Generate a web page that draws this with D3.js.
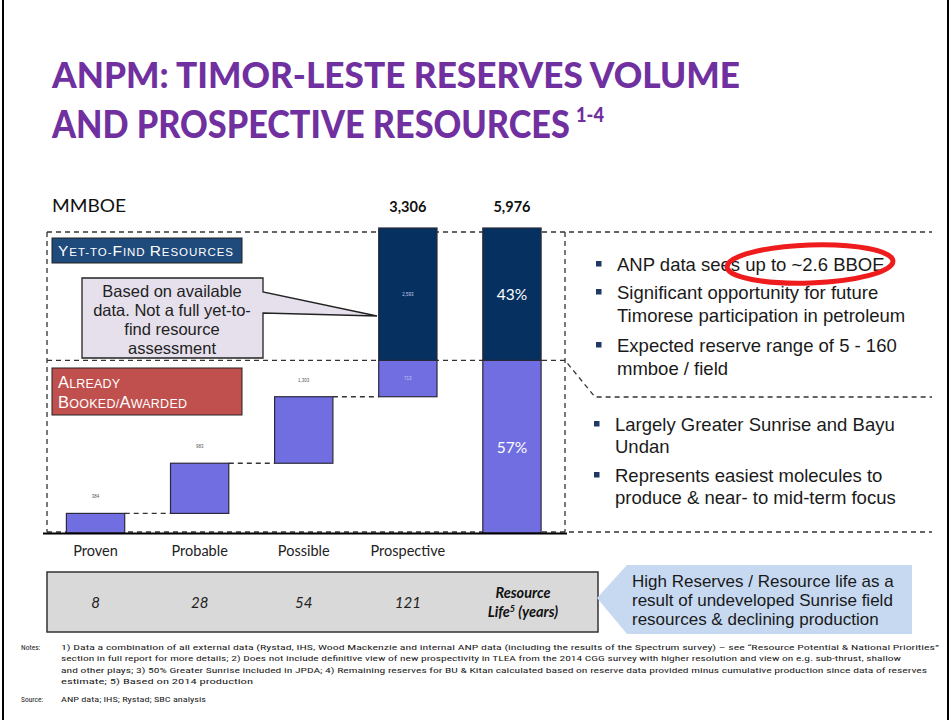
<!DOCTYPE html>
<html><head><meta charset="utf-8">
<script src="https://cdn.jsdelivr.net/npm/d3@7"></script>
<style>
html,body{margin:0;padding:0;background:#fff;}
svg{display:block;}
text{font-family:"Liberation Sans",Arial,sans-serif;}
.cal{font-family:Lato,"Open Sans",sans-serif;}
</style></head>
<body>
<svg id="chart" width="952" height="720"></svg>
<script>
// ---- data ----
const categories = ["Proven", "Probable", "Possible", "Prospective"];
const increments = [384, 983, 1303, 3306];          // MMBOE
const prospectiveSplit = [713, 2593];               // already booked part, yet-to-find part
const totalValue = 5976;
const totalShares = ["57%", "43%"];
const incrementLabels = ["384", "983", "1,303"];
const prospectiveLabels = ["713", "2,593"];
const topLabels = ["3,306", "5,976"];
const resourceLife = ["8", "28", "54", "121"];
const bulletsTop = [["ANP data sees up to ~2.6 BBOE"], ["Significant opportunity for future", "Timorese participation in petroleum"], ["Expected reserve range of 5 - 160", "mmboe / field"]];
const bulletsBottom = [["Largely Greater Sunrise and Bayu", "Undan"], ["Represents easiest molecules to", "produce & near- to mid-term focus"]];
const calloutLines = ["Based on available", "data. Not a full yet-to-", "find resource", "assessment"];
const arrowLines = ["High Reserves / Resource life as a", "result of undeveloped Sunrise field", "resources & declining production"];
const notesLines = [
 "1) Data a combination  of all external data (Rystad, IHS, Wood  Mackenzie and internal ANP data (including  the results of the Spectrum survey) \u2013 see \u201cResource  Potential & National  Priorities\u201d",
 "section in full report for more details; 2) Does not include  definitive view of new prospectivity in TLEA from the 2014 CGG survey with higher resolution and view on e.g. sub-thrust,  shallow",
 "and other plays; 3) 50% Greater Sunrise included  in JPDA; 4) Remaining  reserves for BU & Kitan calculated  based on reserve data provided  minus cumulative production  since data of reserves",
 "estimate; 5) Based on 2014 production"];
const sourceLine = "ANP data; IHS; Rystad; SBC analysis";

const LIGHT = "#716EE2", DARK = "#05305F", PURPLE = "#7030A0";
const svg = d3.select("#chart");

// slide border
svg.append("line").attr("x1",3).attr("x2",3).attr("y1",0).attr("y2",720).attr("stroke","#000").attr("stroke-width",2);
svg.append("line").attr("x1",948).attr("x2",948).attr("y1",0).attr("y2",720).attr("stroke","#000").attr("stroke-width",2);

// title (fitted by horizontal scaling so the box matches the ink)
function fitted(txt, x0, y0, size, width){
  const t = svg.append("text").attr("class","cal").attr("x",0).attr("y",0).attr("fill",PURPLE)
    .attr("font-size",size).attr("font-weight",900).text(txt);
  const w = t.node().getComputedTextLength();
  t.attr("transform",`translate(${x0},${y0}) scale(${width/w},1)`);
}
fitted("ANPM: TIMOR-LESTE RESERVES VOLUME", 52, 88, 37, 688);
fitted("AND PROSPECTIVE RESOURCES", 52, 138, 37, 518);
fitted("1-4", 576, 122, 20, 28);

// scales
const cols = categories.concat(["Total"]);
const x = d3.scaleBand().domain(cols).range([43.5, 564]).paddingInner(0.44).paddingOuter(0.22);
const y = d3.scaleLinear().domain([0, totalValue]).range([533, 228]);

svg.append("text").attr("class","cal").attr("x",52).attr("y",212).attr("font-size",16.5).attr("fill","#111")
  .attr("textLength",74).attr("lengthAdjust","spacingAndGlyphs").text("MMBOE");

// segments
const cum = d3.cumsum(increments);
const bookedTotal = cum[2] + prospectiveSplit[0];
const segs = [];
categories.slice(0,3).forEach((c,i)=>segs.push({c, y0: i?cum[i-1]:0, y1: cum[i], fill: LIGHT}));
segs.push({c:"Prospective", y0: cum[2], y1: bookedTotal, fill: LIGHT, lab: prospectiveLabels[0]});
segs.push({c:"Prospective", y0: bookedTotal, y1: cum[3], fill: DARK, lab: prospectiveLabels[1]});
segs.push({c:"Total", y0: 0, y1: bookedTotal, fill: LIGHT, pct: totalShares[0]});
segs.push({c:"Total", y0: bookedTotal, y1: totalValue, fill: DARK, pct: totalShares[1]});

// dashed frame
const dash = "5,4";
const frame = svg.append("g").attr("fill","none").attr("stroke","#333").attr("stroke-width",1.3).attr("stroke-dasharray",dash);
frame.append("line").attr("x1",47).attr("x2",47).attr("y1",y(totalValue)+4).attr("y2",y(0)-1);
frame.append("line").attr("x1",47).attr("x2",932).attr("y1",y(totalValue)+4).attr("y2",y(totalValue)+4);
frame.append("path").attr("d",`M47,${y(bookedTotal)} H565 L595,397 H932`);
frame.append("line").attr("x1",565).attr("x2",565).attr("y1",y(totalValue)+4).attr("y2",y(0)-1);
frame.append("line").attr("x1",47).attr("x2",932).attr("y1",y(0)-1).attr("y2",y(0)-1);
// connectors
categories.slice(0,3).forEach((c,i)=>{
  frame.append("line").attr("x1",x(c)+x.bandwidth()).attr("x2",x(categories[i+1]))
    .attr("y1",y(cum[i])).attr("y2",y(cum[i]));
});

// bars
svg.append("g").selectAll("rect").data(segs).join("rect")
  .attr("x",d=>x(d.c)).attr("width",x.bandwidth())
  .attr("y",d=>y(d.y1)).attr("height",d=>y(d.y0)-y(d.y1))
  .attr("fill",d=>d.fill).attr("stroke","#2a2a3a").attr("stroke-width",1.2);

// baseline
svg.append("line").attr("x1",43).attr("x2",567).attr("y1",533.5).attr("y2",533.5).attr("stroke","#000").attr("stroke-width",2.2);

// tiny value labels
categories.slice(0,3).forEach((c,i)=>{
  svg.append("text").attr("x",x(c)+x.bandwidth()/2).attr("y",y(cum[i])-15).attr("text-anchor","middle")
    .attr("font-size",4.5).attr("fill","#555").text(incrementLabels[i]);
});
segs.filter(d=>d.lab).forEach(d=>{
  svg.append("text").attr("x",x(d.c)+x.bandwidth()/2).attr("y",(y(d.y0)+y(d.y1))/2+1.5).attr("text-anchor","middle")
    .attr("font-size",4.5).attr("fill","#c8c8ee").text(d.lab);
});
segs.filter(d=>d.pct).forEach(d=>{
  svg.append("text").attr("class","cal").attr("x",x(d.c)+x.bandwidth()/2).attr("y",(y(d.y0)+y(d.y1))/2+6).attr("text-anchor","middle")
    .attr("font-size",15.5).attr("fill","#fff").text(d.pct);
});
[["Prospective",topLabels[0]],["Total",topLabels[1]]].forEach(([c,t])=>{
  svg.append("text").attr("class","cal").attr("x",x(c)+x.bandwidth()/2).attr("y",212).attr("text-anchor","middle")
    .attr("font-size",14.5).attr("font-weight",700).attr("fill","#111").text(t);
});

// small caps label boxes
function smallCaps(g, xx, yy, parts, big, small, len){
  const t = g.append("text").attr("x",xx).attr("y",yy).attr("fill","#fff")
    .attr("textLength",len).attr("lengthAdjust","spacing");
  parts.forEach(p=>{ t.append("tspan").attr("font-size",p[1]?big:small).text(p[0]); });
}
svg.append("rect").attr("x",52).attr("y",238).attr("width",190).attr("height",25).attr("fill","#1F4A7C").attr("stroke","#222").attr("stroke-width",1);
smallCaps(svg, 58, 256, [["Y",1],["ET-TO-",0],["F",1],["IND ",0],["R",1],["ESOURCES",0]], 15.5, 11.5, 175);
svg.append("rect").attr("x",52).attr("y",368).attr("width",190).attr("height",47).attr("fill","#C0504D").attr("stroke","#222").attr("stroke-width",1);
smallCaps(svg, 58, 388, [["A",1],["LREADY",0]], 16.5, 12.5, 62);
smallCaps(svg, 58, 408, [["B",1],["OOKED/",0],["A",1],["WARDED",0]], 16.5, 12.5, 129);

// callout
svg.append("path").attr("d","M82,278 H263 V292 L377,316 L263,313 V358 H82 Z")
  .attr("fill","#E5E0EC").attr("stroke","#222").attr("stroke-width",1.3);
calloutLines.forEach((l,i)=>svg.append("text").attr("x",172).attr("y",297+i*19).attr("text-anchor","middle")
  .attr("font-size",16.5).attr("fill","#222").text(l));

// right bullets
function bullets(list, x0, y0s, lh){
  list.forEach((b,i)=>{
    svg.append("rect").attr("x",x0).attr("y",y0s[i]-10).attr("width",5.5).attr("height",5.5).attr("fill","#1F3864");
    b.forEach((l,j)=>svg.append("text").attr("x",x0+21).attr("y",y0s[i]+j*lh).attr("font-size",18.5).attr("fill","#1a1a1a").text(l));
  });
}
bullets(bulletsTop, 596, [271, 299, 352], 23);
bullets(bulletsBottom, 594, [431, 482], 22);
// red highlight ellipse
svg.append("ellipse").attr("cx",810).attr("cy",264).attr("rx",83).attr("ry",19)
  .attr("fill","none").attr("stroke","#EE1C1C").attr("stroke-width",5).attr("transform","rotate(-2 810 264)");

// category axis
const axis = svg.append("g").attr("transform","translate(0,545)")
  .call(d3.axisBottom(x).tickValues(categories).tickSize(0).tickPadding(0));
axis.select(".domain").remove();
axis.selectAll("text").attr("class","cal").attr("font-size",14.5).attr("fill","#222").attr("dy","0.75em");

// resource life table
svg.append("rect").attr("x",47).attr("y",572).attr("width",551).attr("height",60).attr("fill","#D9D9D9").attr("stroke","#333").attr("stroke-width",1.5);
categories.forEach((c,i)=>svg.append("text").attr("class","cal").attr("x",x(c)+x.bandwidth()/2).attr("y",608)
  .attr("text-anchor","middle").attr("font-size",15).attr("font-style","italic").attr("fill","#222").text(resourceLife[i]));
const rl = x("Total")+x.bandwidth()/2+11;
svg.append("text").attr("class","cal").attr("x",rl).attr("y",598).attr("text-anchor","middle").attr("font-size",14.5)
  .attr("font-style","italic").attr("font-weight",700).attr("fill","#111").text("Resource");
const l2 = svg.append("text").attr("class","cal").attr("x",rl).attr("y",617).attr("text-anchor","middle").attr("font-size",14.5)
  .attr("font-style","italic").attr("font-weight",700).attr("fill","#111");
l2.append("tspan").text("Life");
l2.append("tspan").attr("font-size",9).attr("dy",-5).text("5");
l2.append("tspan").attr("dy",5).text(" (years)");

// blue arrow
svg.append("path").attr("d","M597,598 L627,565 H912 V634 H627 Z").attr("fill","#C6D9F1");
arrowLines.forEach((l,i)=>svg.append("text").attr("x",632).attr("y",587+i*18.8).attr("font-size",17).attr("fill","#1a1a1a").text(l));

// notes
const nf = "'Liberation Sans Narrow','Roboto Condensed','Liberation Sans',sans-serif";
svg.append("text").attr("x",21).attr("y",650).attr("font-size",7.5).attr("fill","#222").style("font-family",nf).text("Notes:");
const nlen = [878, 840, 866, 192];
notesLines.forEach((l,i)=>svg.append("text").attr("x",61).attr("y",650+i*11.3).attr("font-size",7.5).attr("fill","#222")
  .style("font-family",nf).attr("textLength",nlen[i]).attr("lengthAdjust","spacingAndGlyphs").text(l));
svg.append("text").attr("x",21).attr("y",702).attr("font-size",7.5).attr("fill","#222").style("font-family",nf).text("Source:");
svg.append("text").attr("x",61).attr("y",702).attr("font-size",7.5).attr("fill","#222").style("font-family",nf)
  .attr("textLength",145).attr("lengthAdjust","spacingAndGlyphs").text(sourceLine);
</script>
</body></html>
